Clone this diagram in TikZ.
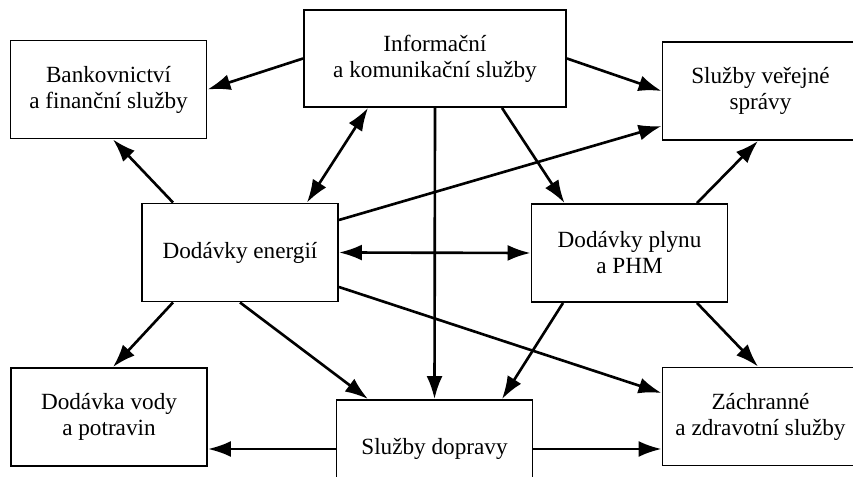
\documentclass[tikz,border=0pt]{standalone}
\usepackage{fontspec}
\setmainfont{Liberation Serif}
\usetikzlibrary{arrows.meta}

\begin{document}
\begin{tikzpicture}[
	box/.style={draw, line width=1.1pt, minimum width=3.92cm, minimum height=1.96cm, align=center, font=\fontsize{13.2}{14.8}\selectfont},
	link/.style={-{Latex[length=4.6mm,width=3.2mm]}, line width=1.5pt},
	twoway/.style={{Latex[length=4.6mm,width=3.2mm]}-{Latex[length=4.6mm,width=3.2mm]}, line width=1.5pt}]
	\useasboundingbox (0,0) rectangle (17.06,-9.54);
	
	% Top row
	\node [box, minimum width=5.24cm, minimum height=1.94cm] at (8.70,-1.17) (info) {Informační\\a komunikační služby};
	\node [box] at (2.17,-1.79) (bank) {Bankovnictví\\a finanční služby};
	\node [box] at (15.21,-1.82) (sprava) {Služby veřejné\\správy};
	
	% Middle row
	\node [box] at (4.80,-5.05) (energie) {Dodávky energií};
	\node [box] at (12.59,-5.06) (plyn) {Dodávky plynu\\a PHM};
	
	% Bottom row
	\node [box] at (2.18,-8.34) (voda) {Dodávka vody\\a potravin};
	\node [box] at (8.69,-8.98) (doprava) {Služby dopravy};
	\node [box] at (15.21,-8.33) (zachrana) {Záchranné\\a zdravotní služby};
	
	% Connections
	\draw [link] (info.west) -- (bank.east);
	\draw [link] (info.east) -- (sprava.west);
	\draw [twoway] ([xshift=-1.34cm]info.south) -- ([xshift=1.34cm]energie.north);
	\draw [link] (info.south) -- (doprava.north);
	\draw [link] ([xshift=1.34cm]info.south) -- ([xshift=-1.30cm]plyn.north);
	\draw [link] ([xshift=-1.34cm]energie.north) -- ([xshift=0.09cm]bank.south);
	\draw [link] ([yshift=0.65cm]energie.east) -- ([yshift=-0.70cm]sprava.west);
	\draw [twoway] (energie.east) -- (plyn.west);
	\draw [link] ([xshift=1.35cm]plyn.north) -- ([xshift=-0.05cm]sprava.south);
	\draw [link] ([xshift=-1.34cm]energie.south) -- ([xshift=0.08cm]voda.north);
	\draw [link] (energie.south) -- ([xshift=-1.33cm]doprava.north);
	\draw [link] ([yshift=-0.69cm]energie.east) -- ([yshift=0.47cm]zachrana.west);
	\draw [link] ([xshift=-1.33cm]plyn.south) -- ([xshift=1.35cm]doprava.north);
	\draw [link] ([xshift=1.35cm]plyn.south) -- ([xshift=-0.05cm]zachrana.north);
	\draw [link] (doprava.west) -- (doprava.west -| voda.east);
	\draw [link] (doprava.east) -- (doprava.east -| zachrana.west);
\end{tikzpicture}
\end{document}
